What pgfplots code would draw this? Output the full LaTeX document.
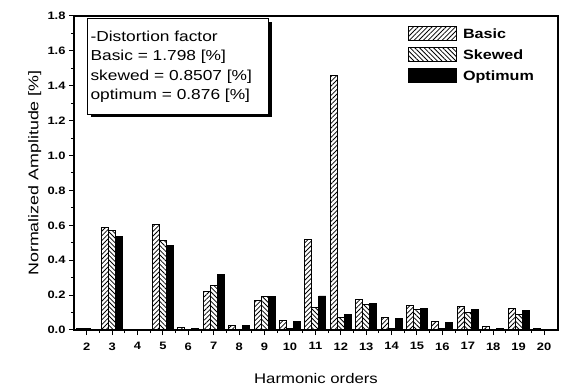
\documentclass[border=0pt]{standalone}
\usepackage{pgfplots}
\pgfplotsset{compat=1.18}
\usepackage{fontspec}
\setmainfont{Liberation Sans}
\newfontfamily\boxfont{Liberation Sans}[FakeStretch=1.2]
\newfontfamily\labfont{Liberation Sans}[FakeStretch=1.2]
\newfontfamily\ylabfont{Liberation Sans}[FakeStretch=1.28]
\newfontfamily\tickfont{Liberation Sans}[FakeStretch=1.2]
\newfontfamily\legfont{Liberation Sans}[FakeStretch=1.2]
\usetikzlibrary{patterns.meta,shadows}
\begin{document}
\begin{tikzpicture}
\useasboundingbox (0,0) rectangle (562bp,389bp);
\begin{axis}[
  at={(74bp,59bp)}, anchor=south west,
  scale only axis, width=484bp, height=314bp,
  xmin=1.5, xmax=20.55, ymin=0, ymax=1.8,
  ybar=0pt, bar width=7bp,
  xtick={2,...,20}, minor x tick num=1,
  ytick={0,0.2,...,1.8}, minor y tick num=1,
  xtick pos=bottom, ytick pos=left,
  tick align=outside,
  major tick length=5bp, minor tick length=3bp,
  axis line style={line width=1.3bp},
  every tick/.style={line width=1bp, black},
  tick label style={font=\tickfont\fontsize{10.8}{12}\selectfont\bfseries},
  xticklabel style={yshift=-4bp},
  /pgf/number format/assume math mode=true,
  yticklabel style={/pgf/number format/.cd, fixed, fixed zerofill, precision=1},
  xlabel={Harmonic orders},
  ylabel={Normalized Amplitude [\%]},
  xlabel style={font=\labfont\fontsize{14}{16}\selectfont, at={(axis description cs:0.5,-0.153)}, anchor=center},
  ylabel style={font=\ylabfont\fontsize{14}{16}\selectfont, at={(axis description cs:-0.081,0.5)}, anchor=center},
  legend style={at={(0.69,0.968)}, anchor=north west, draw=none, fill=none,
    inner sep=0pt,
    font=\legfont\fontsize{13.5}{16}\selectfont\bfseries, row sep=5bp,
    /tikz/every odd column/.append style={column sep=4bp}},
  legend image code/.code={\draw[#1,line width=0.9bp] (0bp,-6bp) rectangle (48bp,8bp);},
  legend cell align=left,
]
\addplot[draw=black, line width=0.9bp, pattern={Lines[angle=45,distance=3.3bp,line width=0.8bp]}] coordinates {
(2,0.010) (3,0.585) (4,0.005) (5,0.605) (6,0.015) (7,0.220) (8,0.025) (9,0.170) (10,0.055)
(11,0.520) (12,1.460) (13,0.175) (14,0.070) (15,0.140) (16,0.050) (17,0.135) (18,0.020) (19,0.125) (20,0.010)};
\addplot[draw=black, line width=0.9bp, pattern={Lines[angle=-45,distance=3.3bp,line width=0.8bp]}] coordinates {
(2,0.008) (3,0.570) (4,0.005) (5,0.515) (6,0.005) (7,0.255) (8,0.005) (9,0.190) (10,0.010)
(11,0.130) (12,0.070) (13,0.145) (14,0.010) (15,0.120) (16,0.010) (17,0.100) (18,0.005) (19,0.090) (20,0.005)};
\addplot[draw=black, line width=0.9bp, fill=black] coordinates {
(2,0.005) (3,0.535) (4,0.005) (5,0.485) (6,0.010) (7,0.320) (8,0.025) (9,0.190) (10,0.050)
(11,0.195) (12,0.090) (13,0.150) (14,0.065) (15,0.125) (16,0.045) (17,0.120) (18,0.010) (19,0.110) (20,0.005)};
\legend{Basic, Skewed, Optimum}
\node[draw=black, line width=1bp, fill=white, anchor=north west, align=left,
  inner xsep=3bp, inner ysep=12bp, text width=175bp,
  drop shadow={shadow xshift=3bp, shadow yshift=-3bp, fill=black, opacity=1},
  font=\boxfont\fontsize{14.5}{19.5}\selectfont]
  at (axis description cs:0.027,0.993)
  {-Distortion factor\\ Basic = 1.798 [\%]\\ skewed = 0.8507 [\%]\\ optimum = 0.876 [\%]};
\end{axis}
\end{tikzpicture}
\end{document}
